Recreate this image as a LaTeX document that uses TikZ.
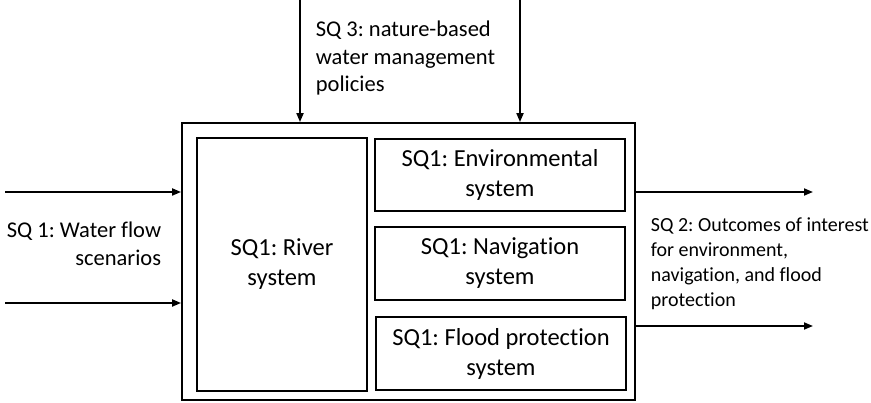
\documentclass[tikz,border=0pt]{standalone}
\usepackage{fontspec}
\setmainfont{Carlito}[Ligatures=CommonOff]
\usetikzlibrary{arrows.meta}
\frenchspacing
\begin{document}
\begin{tikzpicture}[x=1pt,y=-1pt,
  line width=1.8pt,
  sysbox/.style={draw, inner sep=0pt, align=center,
    font=\fontsize{24.5}{30}\selectfont},
  flow/.style={-{Triangle[length=9pt,width=7pt]}},
  lbl/.style={inner sep=0pt}]
\useasboundingbox (0,0) rectangle (871,403);

% frame of the whole model
\node[draw, inner sep=0pt, minimum width=453pt, minimum height=277pt] (outer) at (408.5,261.5) {};

% subsystems
\node[sysbox, minimum width=170pt, minimum height=253pt] (river) at (282,264.5) {SQ1: River\\system};
\node[sysbox, minimum width=250pt, minimum height=72pt] (env) at (500,175) {SQ1: Environmental\\system};
\node[sysbox, minimum width=250pt, minimum height=73pt] (nav) at (500,263.5) {SQ1: Navigation\\system};
\node[sysbox, minimum width=250pt, minimum height=73pt] (flood) at (501,353.5) {SQ1: Flood protection\\system};

% free ends of the connectors
\coordinate (top1) at (300,0);
\coordinate (top2) at (520,0);
\coordinate (in1) at (5,192);
\coordinate (in2) at (5,303);
\coordinate (out1) at (813,192);
\coordinate (out2) at (813,326);

% policies coming in from above
\draw[flow] (top1) -- (top1 |- outer.north);
\draw[flow] (top2) -- (top2 |- outer.north);
% flow scenarios from the left
\draw[flow] (in1) -- (in1 -| outer.west);
\draw[flow] (in2) -- (in2 -| outer.west);
% outcomes to the right
\draw[flow] (out1 -| outer.east) -- (out1);
\draw[flow] (out2 -| outer.east) -- (out2);

% labels (base anchor sits on the last line)
\node[lbl, anchor=base west, align=left, font=\fontsize{22.5}{27.5}\selectfont] (sq3) at (315,92)
  {SQ 3: nature-based\\water management\\policies};
\node[lbl, anchor=base east, align=right, font=\fontsize{22.5}{28}\selectfont] (sq1) at (162,266)
  {SQ 1: Water flow\\scenarios};
\node[lbl, anchor=base west, align=left, font=\fontsize{20}{25}\selectfont] (sq2) at (650,307)
  {SQ 2: Outcomes of interest\\for environment,\\navigation, and flood\\protection};
\end{tikzpicture}
\end{document}
